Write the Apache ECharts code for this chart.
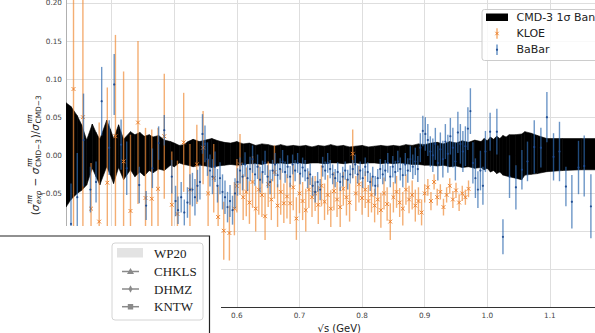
<!DOCTYPE html>
<html><head><meta charset="utf-8">
<script src="https://cdn.jsdelivr.net/npm/echarts@6.0.0/dist/echarts.min.js"></script>
<style>html,body{margin:0;padding:0;background:#fff}#c{width:595px;height:333px}</style>
</head><body><div id="c"></div>
<script>
// ---------------- data ----------------
const xGridTicks = [0.4, 0.5, 0.6, 0.7, 0.8, 0.9, 1.0, 1.1];
const xLabelTicks = [0.6, 0.7, 0.8, 0.9, 1.0, 1.1];
const yTicks = [-0.2, -0.15, -0.1, -0.05, 0, 0.05, 0.1, 0.15, 0.2];

// CMD-3 1 sigma band
const bandX = [0.327,0.335,0.345,0.352,0.360,0.369,0.375,0.381,0.392,0.398,0.403,0.411,0.419,0.430,0.437,0.445,0.452,0.460,0.466,0.475,0.484,0.494,0.500,0.508,0.515,0.522,
 0.53,0.54,0.55,0.56,0.57,0.58,0.59,0.60,0.61,0.62,0.63,0.64,0.65,0.66,0.67,0.68,0.69,0.70,0.71,0.72,0.73,0.74,0.75,0.76,0.77,0.78,0.79,0.80,0.81,0.82,0.83,0.84,0.85,0.86,0.87,0.88,0.89,0.90,0.91,0.92,0.93,0.94,0.95,0.96,0.97,0.98,0.99,0.995,1.00,1.005,1.01,1.015,1.02,1.025,1.03,1.035,1.045,1.055,1.060,1.070,1.080,1.095,1.12,1.15,1.20];
const bandUpper = [0.069,0.064,0.052,0.040,0.020,0.041,0.030,0.021,0.046,0.034,0.022,0.040,0.021,0.031,0.027,0.030,0.025,0.027,0.024,0.026,0.020,0.018,0.016,0.013,0.014,0.018,
 0.021,0.018,0.020,0.022,0.019,0.017,0.016,0.018,0.015,0.016,0.013,0.015,0.014,0.012,0.014,0.012,0.013,0.012,0.013,0.011,0.013,0.012,0.014,0.012,0.013,0.011,0.012,0.013,0.011,0.012,0.013,0.012,0.013,0.012,0.014,0.013,0.015,0.014,0.016,0.017,0.015,0.018,0.016,0.019,0.017,0.020,0.018,0.022,0.019,0.024,0.021,0.025,0.022,0.026,0.024,0.027,0.027,0.028,0.031,0.029,0.026,0.022,0.022,0.022,0.022];
const bandLower = [-0.068,-0.058,-0.050,-0.046,-0.039,-0.017,-0.028,-0.039,-0.015,-0.026,-0.037,-0.016,-0.032,-0.019,-0.028,-0.022,-0.027,-0.020,-0.023,-0.018,-0.020,-0.013,-0.015,-0.010,-0.012,-0.013,
 -0.015,-0.013,-0.014,-0.016,-0.014,-0.013,-0.012,-0.013,-0.012,-0.011,-0.011,-0.012,-0.010,-0.011,-0.010,-0.011,-0.010,-0.010,-0.011,-0.010,-0.010,-0.011,-0.010,-0.010,-0.011,-0.010,-0.010,-0.011,-0.010,-0.010,-0.011,-0.010,-0.011,-0.010,-0.011,-0.012,-0.012,-0.013,-0.013,-0.014,-0.013,-0.015,-0.014,-0.016,-0.015,-0.017,-0.016,-0.019,-0.017,-0.022,-0.020,-0.024,-0.022,-0.026,-0.027,-0.028,-0.030,-0.032,-0.026,-0.025,-0.024,-0.0215,-0.020,-0.019,-0.019];

// KLOE
const kloeX = [0.339,0.354,0.367,0.380,0.393,0.406,0.419,0.430,0.442,0.454,0.464,0.474,0.484,0.496,0.505,0.515,0.525,0.536,0.546,0.554,0.563,0.570,0.579,0.588,0.596,
 0.600,0.605,0.610,0.615,0.620,0.625,0.630,0.635,0.640,0.645,0.650,0.655,0.660,0.665,0.670,0.675,0.680,0.685,0.690,0.695,
 0.700,0.705,0.710,0.715,0.720,0.725,0.730,0.735,0.740,0.745,0.750,0.755,0.760,0.765,0.770,0.775,0.780,0.785,0.790,0.795,
 0.800,0.805,0.810,0.815,0.820,0.825,0.830,0.835,0.840,0.845,0.850,0.855,0.860,0.865,0.870,0.875,0.880,0.885,0.890,0.895,
 0.900,0.905,0.910,0.915,0.920,0.925,0.930,0.935,0.940,0.945,0.950,0.955,0.960,0.965,0.970];
const kloeY = [0.087,0.050,-0.070,-0.087,-0.036,0.025,-0.008,-0.073,0.043,-0.056,-0.057,-0.044,0.025,-0.065,-0.077,0.017,-0.045,-0.012,0.010,-0.050,-0.030,-0.081,-0.099,-0.102,-0.070,
 -0.040,-0.012,-0.055,-0.048,-0.062,-0.035,-0.070,-0.045,-0.052,-0.080,-0.038,-0.058,-0.022,-0.066,-0.048,-0.063,-0.054,-0.063,-0.042,-0.083,
 -0.050,-0.060,-0.072,-0.045,-0.055,-0.050,-0.065,-0.040,-0.061,-0.052,-0.070,-0.047,-0.058,-0.068,-0.044,-0.055,-0.062,0.002,-0.050,-0.038,
 -0.056,-0.045,-0.060,-0.052,-0.066,-0.058,-0.072,-0.050,-0.064,-0.087,-0.055,-0.048,-0.062,-0.070,-0.045,-0.058,-0.052,-0.066,-0.060,-0.075,
 -0.050,-0.042,-0.060,-0.035,-0.055,-0.048,-0.068,-0.052,-0.040,-0.058,-0.046,-0.062,-0.050,-0.055,-0.044];
const kloeErr = [0.180,0.200,0.060,0.130,0.125,0.133,0.118,0.100,0.107,0.092,0.091,0.080,0.082,0.070,0.070,0.065,0.060,0.052,0.048,0.045,0.045,0.040,0.038,0.036,0.035,
 0.035,0.040,0.030,0.032,0.028,0.034,0.030,0.033,0.029,0.031,0.030,0.027,0.035,0.028,0.030,0.026,0.029,0.027,0.030,0.028,
 0.026,0.025,0.028,0.024,0.026,0.023,0.025,0.027,0.024,0.026,0.024,0.025,0.023,0.026,0.022,0.024,0.025,0.032,0.023,0.024,
 0.022,0.024,0.021,0.023,0.022,0.020,0.023,0.021,0.022,0.024,0.020,0.021,0.019,0.022,0.020,0.018,0.019,0.021,0.018,0.017,
 0.012,0.011,0.012,0.010,0.011,0.010,0.011,0.010,0.010,0.011,0.010,0.011,0.010,0.010,0.011];

// BaBar
const babarX = [0.335,0.345,0.355,0.366,0.375,0.384,0.396,0.404,0.415,0.424,0.444,0.455,0.465,0.475,0.484,0.496,0.502,0.506,0.511,0.516,0.521,0.525,
 0.529,0.533,0.537,0.541,0.545,0.549,0.553,0.557,0.561,0.565,0.569,0.573,0.577,0.581,0.585,0.589,0.593,0.597,
 0.601,0.605,0.609,0.613,0.617,0.621,0.625,0.629,0.633,0.637,0.641,0.645,0.649,0.653,0.657,0.661,0.665,0.669,0.673,0.677,0.681,0.685,0.689,0.693,0.697,
 0.701,0.705,0.709,0.713,0.717,0.721,0.725,0.729,0.733,0.737,0.741,0.745,0.749,0.753,0.757,0.761,0.765,0.769,0.773,0.777,0.781,0.785,0.789,0.793,0.797,
 0.801,0.805,0.809,0.813,0.817,0.821,0.825,0.829,0.833,0.837,0.841,0.845,0.849,0.853,0.857,0.861,0.865,0.869,0.873,0.877,0.881,0.885,0.889,0.893,0.897,
 0.901,0.905,0.909,0.913,0.917,0.921,0.925,0.929,0.933,0.937,0.941,0.945,0.949,0.953,0.957,0.961,0.965,0.969,0.973,0.977,0.981,0.985,0.989,0.993,0.997,
 1.0045,1.0153,1.025,1.0355,1.0457,1.0553,1.0642,1.075,1.0856,1.0952,1.1058,1.1153,1.1256,1.1351,1.1457,1.1548,1.1655];
const babarY = [-0.090,-0.055,0.020,-0.045,-0.035,0.071,0.010,0.093,0.014,-0.017,-0.039,-0.066,-0.017,0.016,0.033,-0.028,-0.060,-0.072,-0.055,-0.075,-0.062,-0.045,
 -0.045,-0.055,-0.040,-0.035,0.028,0.015,-0.005,-0.020,-0.028,-0.015,-0.040,-0.030,-0.048,-0.055,-0.068,-0.060,-0.072,-0.050,
 -0.035,-0.020,-0.028,-0.012,-0.030,-0.018,-0.005,-0.025,-0.015,-0.032,-0.022,-0.010,-0.028,-0.035,-0.020,-0.012,-0.026,-0.018,-0.008,-0.022,-0.015,-0.028,-0.012,-0.020,-0.010,
 -0.024,-0.016,-0.020,-0.030,-0.025,-0.040,-0.048,-0.035,-0.045,-0.015,-0.020,-0.010,-0.018,-0.025,-0.030,-0.022,-0.035,-0.028,-0.020,-0.032,-0.025,-0.018,-0.012,-0.025,-0.020,
 -0.030,-0.015,-0.022,-0.035,-0.028,-0.040,-0.030,-0.018,-0.025,-0.020,-0.010,-0.028,-0.015,-0.022,-0.008,-0.018,-0.026,-0.012,-0.020,-0.005,-0.015,-0.008,-0.018,0.010,0.032,
 0.028,0.020,0.005,0.000,0.015,-0.010,0.008,-0.005,0.018,0.002,0.025,0.010,-0.008,0.030,0.015,0.005,0.012,0.035,0.058,-0.010,-0.030,-0.045,-0.020,-0.040,0.005,
 0.031,0.031,-0.107,-0.028,-0.042,-0.019,-0.008,0.011,0.010,0.050,-0.002,0.005,-0.041,-0.061,-0.016,-0.014,-0.067];
const babarErr = [0.053,0.058,0.061,0.030,0.027,0.045,0.036,0.040,0.033,0.035,0.024,0.019,0.026,0.022,0.020,0.022,0.020,0.018,0.020,0.017,0.020,0.020,
 0.022,0.024,0.021,0.023,0.026,0.024,0.022,0.021,0.023,0.020,0.022,0.021,0.023,0.022,0.020,0.021,0.019,0.020,
 0.018,0.017,0.018,0.016,0.017,0.016,0.018,0.015,0.016,0.017,0.015,0.016,0.015,0.016,0.014,0.015,0.016,0.014,0.015,0.014,0.015,0.014,0.013,0.014,0.013,
 0.014,0.013,0.014,0.013,0.014,0.013,0.014,0.013,0.014,0.013,0.012,0.013,0.012,0.013,0.012,0.013,0.012,0.013,0.012,0.013,0.012,0.012,0.013,0.012,0.012,
 0.013,0.012,0.013,0.012,0.013,0.013,0.012,0.013,0.013,0.014,0.013,0.014,0.014,0.015,0.014,0.015,0.016,0.015,0.016,0.017,0.016,0.018,0.017,0.019,0.020,
 0.022,0.021,0.020,0.022,0.021,0.023,0.022,0.024,0.023,0.025,0.024,0.026,0.025,0.027,0.026,0.027,0.026,0.028,0.030,0.027,0.026,0.024,0.026,0.025,0.027,
 0.025,0.030,0.023,0.028,0.029,0.026,0.026,0.035,0.026,0.033,0.031,0.039,0.026,0.035,0.035,0.040,0.042];

// ---------------- chart ----------------
const chart = echarts.init(document.getElementById('c'), null, {renderer: 'svg'});

function errRender(barColor, markColor, kind) {
  return function (params, api) {
    const x = api.value(0), y = api.value(1), e = api.value(2);
    const p0 = api.coord([x, y + e]), p1 = api.coord([x, y - e]), c = api.coord([x, y]);
    const ch = [{type: 'line', shape: {x1: p0[0], y1: p0[1], x2: p1[0], y2: p1[1]},
      style: {stroke: barColor, lineWidth: 1.4}}];
    if (kind === 'x') {
      const s = 1.9;
      ch.push({type: 'line', shape: {x1: c[0]-s, y1: c[1]-s, x2: c[0]+s, y2: c[1]+s}, style: {stroke: markColor, lineWidth: 1}});
      ch.push({type: 'line', shape: {x1: c[0]-s, y1: c[1]+s, x2: c[0]+s, y2: c[1]-s}, style: {stroke: markColor, lineWidth: 1}});
    } else {
      ch.push({type: 'circle', shape: {cx: c[0], cy: c[1], r: 1.1}, style: {fill: markColor}});
    }
    return {type: 'group', children: ch};
  };
}

function bandRender(params, api) {
  const a = api.coord([api.value(0), api.value(2)]);
  const b = api.coord([api.value(3), api.value(5)]);
  const c = api.coord([api.value(3), api.value(4)]);
  const d = api.coord([api.value(0), api.value(1)]);
  return {type: 'polygon', shape: {points: [a, b, c, d]}, style: {fill: '#000', stroke: '#000', lineWidth: 0.6}};
}

const bandData = [];
for (let i = 0; i < bandX.length - 1; i++) {
  bandData.push([bandX[i], bandLower[i], bandUpper[i], bandX[i+1], bandLower[i+1], bandUpper[i+1]]);
}
const kloeData = kloeX.map((x, i) => [x, kloeY[i], kloeErr[i]]);
const babarData = babarX.map((x, i) => [x, babarY[i], babarErr[i]]);

// ---- y-axis label built as mathtext-like pieces ----
const mctx = document.createElement('canvas').getContext('2d');
function tw(t, size, it) { mctx.font = (it ? 'italic ' : '') + size + 'px "DejaVu Sans"'; return mctx.measureText(t).width; }
const M = 10.5, S = 7.4;
const pieces = [
  {t: '(', s: M}, {t: 'σ', s: M, it: true}, {sup: 'ππ', sub: 'exp', subIt: true},
  {t: ' − ', s: M}, {t: 'σ', s: M, it: true}, {sup: 'ππ', sub: 'CMD−3'},
  {t: ')/', s: M}, {t: 'σ', s: M, it: true}, {sup: 'ππ', sub: 'CMD−3'}
];
const yl = []; let cur = 0;
pieces.forEach(p => {
  if (p.t !== undefined) {
    yl.push({x: cur, y: 0, t: p.t, s: p.s, it: p.it}); cur += tw(p.t, p.s, p.it);
  } else {
    const w1 = tw(p.sup, S, true), w2 = tw(p.sub, S, p.subIt);
    yl.push({x: cur + 0.5, y: -4.6, t: p.sup, s: S, it: true});
    yl.push({x: cur + 0.5, y: 3.6, t: p.sub, s: S, it: p.subIt});
    cur += Math.max(w1, w2) + 1.2;
  }
});
const W = cur;
const ylChildren = yl.map(o => ({
  type: 'text', x: o.x - W / 2, y: o.y,
  style: {text: o.t, font: (o.it ? 'italic ' : '') + o.s + 'px "DejaVu Sans"', fill: '#262626',
    align: 'left', textAlign: 'left', verticalAlign: 'middle', textVerticalAlign: 'middle'}
}));

const serif = '13px "Liberation Serif"';
const sans = '11px "DejaVu Sans"';
const graphics = [
  {type: 'group', x: 34.5, y: 155, rotation: Math.PI / 2, z: 50, children: ylChildren},
  // top-right legend
  {type: 'rect', z: 40, shape: {x: 482, y: 9.5, width: 130, height: 51, r: 2.5},
   style: {fill: 'rgba(255,255,255,0.8)', stroke: '#cccccc', lineWidth: 1}},
  {type: 'rect', z: 41, shape: {x: 486, y: 13.5, width: 22, height: 7.5}, style: {fill: '#000'}},
  {type: 'text', z: 41, x: 516.5, y: 17.5, style: {text: 'CMD-3 1σ Band', font: sans, fill: '#222', verticalAlign: 'middle', textVerticalAlign: 'middle'}},
  {type: 'line', z: 41, shape: {x1: 497, y1: 28.3, x2: 497, y2: 38.7}, style: {stroke: 'rgba(240,140,55,0.75)', lineWidth: 1.4}},
  {type: 'line', z: 41, shape: {x1: 495.3, y1: 31.8, x2: 498.7, y2: 35.2}, style: {stroke: 'rgba(235,125,40,0.95)', lineWidth: 1}},
  {type: 'line', z: 41, shape: {x1: 495.3, y1: 35.2, x2: 498.7, y2: 31.8}, style: {stroke: 'rgba(235,125,40,0.95)', lineWidth: 1}},
  {type: 'text', z: 41, x: 516.5, y: 33.5, style: {text: 'KLOE', font: sans, fill: '#222', verticalAlign: 'middle', textVerticalAlign: 'middle'}},
  {type: 'line', z: 41, shape: {x1: 497, y1: 44.5, x2: 497, y2: 55}, style: {stroke: 'rgba(45,105,175,0.75)', lineWidth: 1.4}},
  {type: 'circle', z: 41, shape: {cx: 497, cy: 49.7, r: 1.1}, style: {fill: 'rgba(30,75,145,0.95)'}},
  {type: 'text', z: 41, x: 516.5, y: 49.5, style: {text: 'BaBar', font: sans, fill: '#222', verticalAlign: 'middle', textVerticalAlign: 'middle'}},
  // overlapping panel at bottom-left
  {type: 'rect', z: 60, shape: {x: 0, y: 226, width: 221, height: 107}, style: {fill: '#ffffff'}},
  {type: 'polyline', z: 61, shape: {points: [[0, 236], [209.5, 236], [209.5, 333]]}, style: {stroke: '#222', lineWidth: 1.2, fill: null}},
  {type: 'rect', z: 61, shape: {x: 112, y: 243, width: 91, height: 77, r: 3}, style: {fill: '#fff', stroke: '#d4d4d4', lineWidth: 1}},
  {type: 'rect', z: 62, shape: {x: 117, y: 248, width: 26, height: 9.5}, style: {fill: '#e3e3e3'}},
  {type: 'text', z: 62, x: 154, y: 253, style: {text: 'WP20', font: serif, fill: '#222', verticalAlign: 'middle', textVerticalAlign: 'middle'}},
  {type: 'line', z: 62, shape: {x1: 122, y1: 271.5, x2: 139, y2: 271.5}, style: {stroke: '#8a8a8a', lineWidth: 1.5}},
  {type: 'polygon', z: 62, shape: {points: [[130.5, 268], [127, 274], [134, 274]]}, style: {fill: '#8a8a8a'}},
  {type: 'text', z: 62, x: 154, y: 271.5, style: {text: 'CHKLS', font: serif, fill: '#222', verticalAlign: 'middle', textVerticalAlign: 'middle'}},
  {type: 'line', z: 62, shape: {x1: 122, y1: 289, x2: 139, y2: 289}, style: {stroke: '#8a8a8a', lineWidth: 1.5}},
  {type: 'polygon', z: 62, shape: {points: [[130.5, 285.3], [132.5, 289], [130.5, 292.7], [128.5, 289]]}, style: {fill: '#8a8a8a'}},
  {type: 'text', z: 62, x: 154, y: 289, style: {text: 'DHMZ', font: serif, fill: '#222', verticalAlign: 'middle', textVerticalAlign: 'middle'}},
  {type: 'line', z: 62, shape: {x1: 122, y1: 306.7, x2: 139, y2: 306.7}, style: {stroke: '#8a8a8a', lineWidth: 1.5}},
  {type: 'rect', z: 62, shape: {x: 127.8, y: 304, width: 5.4, height: 5.4}, style: {fill: '#8a8a8a'}},
  {type: 'text', z: 62, x: 154, y: 306.7, style: {text: 'KNTW', font: serif, fill: '#222', verticalAlign: 'middle', textVerticalAlign: 'middle'}}
];

const option = {
  animation: false,
  backgroundColor: '#ffffff',
  grid: {left: 66, right: -17.5, top: -0.9, bottom: 25.3, containLabel: false, outerBoundsMode: 'none', show: false},
  xAxis: {
    type: 'value', min: 0.327, max: 1.2,
    axisLine: {show: true, onZero: false, lineStyle: {color: '#333333', width: 1}},
    axisTick: {show: false, customValues: xGridTicks},
    axisLabel: {customValues: xLabelTicks, formatter: v => v.toFixed(1), fontSize: 7.3, color: '#444',
      fontFamily: 'DejaVu Sans', margin: 4},
    splitLine: {show: true, lineStyle: {color: '#dedede', width: 1}},
    name: '√s (GeV)', nameLocation: 'middle', nameGap: 13,
    nameTextStyle: {fontSize: 10, fontFamily: 'DejaVu Sans', color: '#222'}
  },
  yAxis: {
    type: 'value', min: -0.2, max: 0.205,
    axisLine: {show: true, onZero: false, lineStyle: {color: '#b0b0b0', width: 1}},
    axisTick: {show: false, customValues: yTicks},
    axisLabel: {customValues: yTicks, formatter: v => (v < -1e-9 ? '−' : '') + Math.abs(v).toFixed(2),
      fontSize: 7.3, color: '#444', fontFamily: 'DejaVu Sans', margin: 4},
    splitLine: {show: true, lineStyle: {color: '#dedede', width: 1}}
  },
  series: [
    {type: 'custom', name: 'CMD-3 1σ Band', renderItem: bandRender, data: bandData, clip: true, z: 3,
     encode: {x: [0, 3], y: [1, 2, 4, 5]}, silent: true},
    {type: 'custom', name: 'KLOE', renderItem: errRender('rgba(240,140,55,0.7)', 'rgba(235,125,40,0.95)', 'x'),
     data: kloeData, clip: true, z: 4, encode: {x: 0, y: 1}, silent: true},
    {type: 'custom', name: 'BaBar', renderItem: errRender('rgba(45,105,175,0.7)', 'rgba(30,75,145,0.95)', 'dot'),
     data: babarData, clip: true, z: 5, encode: {x: 0, y: 1}, silent: true}
  ],
  graphic: {elements: graphics}
};
chart.setOption(option);
</script></body></html>
